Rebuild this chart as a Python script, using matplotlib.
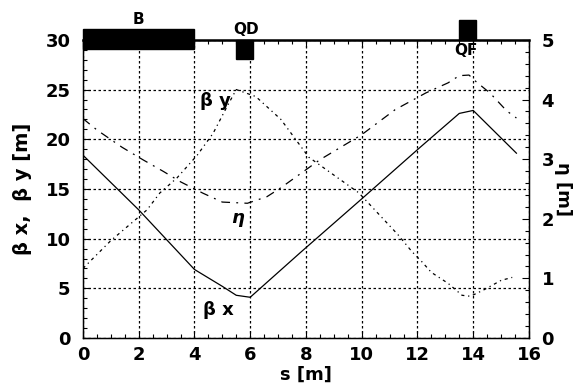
import matplotlib
matplotlib.use("Agg")
import matplotlib.pyplot as plt
import numpy as np
from matplotlib.patches import Rectangle
from matplotlib.ticker import MultipleLocator

# Lattice functions
s_bx = [0.0, 2.0, 4.0, 5.0, 5.5, 6.0, 7.8, 10.0, 12.1, 13.5, 14.0, 15.55]
beta_x = [18.4, 12.9, 6.9, 5.2, 4.3, 4.1, 8.6, 14.0, 19.2, 22.6, 22.9, 18.6]

s_by = [0.0, 1.0, 2.3, 2.76, 3.37, 4.1, 4.67, 5.17, 5.5, 6.2, 7.1, 8.1, 9.9,
        11.3, 11.8, 12.15, 12.5, 13.1, 13.6, 13.9, 14.35, 15.0, 15.4]
beta_y = [7.0, 9.8, 12.9, 14.6, 16.1, 18.4, 20.6, 23.3, 25.0, 24.3, 22.0, 18.2,
          14.6, 10.4, 8.7, 7.7, 6.6, 5.5, 4.3, 4.2, 4.8, 5.8, 6.1]

s_eta = [0.0, 0.5, 1.4, 2.15, 2.9, 3.5, 4.3, 5.0, 5.9, 6.6, 7.1, 8.5, 10.0,
         11.2, 12.3, 13.1, 13.5, 13.85, 14.1, 14.6, 15.2, 15.55]
eta = [3.68, 3.49, 3.2, 2.99, 2.79, 2.62, 2.43, 2.28, 2.26, 2.37, 2.52, 2.99,
       3.41, 3.83, 4.11, 4.28, 4.4, 4.41, 4.3, 4.11, 3.81, 3.69]

# Magnets along the cell: name, start, end [m]
magnet_names = ["B", "QD", "QF"]
magnet_start = [0.0, 5.5, 13.5]
magnet_end = [4.0, 6.1, 14.1]

plt.rcParams["font.family"] = ["DejaVu Sans"]
plt.rcParams["font.weight"] = "bold"

fig = plt.figure(figsize=(5.8, 3.91), dpi=100)
ax = fig.add_axes([0.143, 0.1355, 0.769, 0.7625])
ax2 = ax.twinx()

ax.plot(s_bx, beta_x, color="black", lw=0.9)
ax.plot(s_by, beta_y, color="black", lw=0.9, linestyle=(0, (2.5, 3, 1, 3)))
ax2.plot(s_eta, eta, color="black", lw=0.9, linestyle=(0, (7, 5, 1.5, 5)))

ax.set_xlim(0, 16)
ax.set_ylim(0, 30)
ax2.set_ylim(0, 5)

ax.xaxis.set_major_locator(MultipleLocator(2))
ax.xaxis.set_minor_locator(MultipleLocator(0.5))
ax.yaxis.set_major_locator(MultipleLocator(5))
ax.yaxis.set_minor_locator(MultipleLocator(1))
ax2.yaxis.set_major_locator(MultipleLocator(1))
ax2.yaxis.set_minor_locator(MultipleLocator(0.2))

ax.grid(True, which="major", color="black", lw=0.9, linestyle=(0, (2, 2)))

ax.tick_params(which="both", direction="in", top=True, labelsize=13, width=0.8)
ax.tick_params(which="major", length=5)
ax.tick_params(which="minor", length=3)
ax.tick_params(axis="y", pad=9)
ax.tick_params(axis="x", pad=6)
ax2.tick_params(which="both", direction="in", labelsize=13, width=0.8, pad=9)
ax2.tick_params(which="major", length=5)
ax2.tick_params(which="minor", length=3)
for lab in ax.get_xticklabels() + ax.get_yticklabels() + ax2.get_yticklabels():
    lab.set_fontweight("bold")

for sp in ax.spines.values():
    sp.set_linewidth(1.0)
ax.spines["top"].set_linewidth(1.8)

ax.set_xlabel("s [m]", fontsize=13, fontweight="bold", labelpad=1)
ax.set_ylabel("β x,  β y [m]", fontsize=14, fontweight="bold", labelpad=10)
ax2.set_ylabel("η [m]", fontsize=13, fontweight="bold", rotation=270, labelpad=13)

# Magnet blocks on the top edge
block_y = {"B": (29.1, 2.0), "QD": (28.1, 1.9), "QF": (30.0, 2.0)}
for name, s0, s1 in zip(magnet_names, magnet_start, magnet_end):
    y0, h = block_y[name]
    ax.add_patch(Rectangle((s0, y0), s1 - s0, h, color="black",
                           clip_on=False, zorder=5))
ax.text(2.0, 31.3, "B", ha="center", va="bottom", fontsize=11, fontweight="bold")
ax.text(5.85, 30.3, "QD", ha="center", va="bottom", fontsize=11, fontweight="bold")
ax.text(13.75, 29.7, "QF", ha="center", va="top", fontsize=11, fontweight="bold")

# Curve labels
ax.text(4.2, 23.3, "β y", fontsize=13, fontweight="bold")
ax.text(5.3, 11.6, "η", fontsize=13, fontweight="bold", style="italic")
ax.text(4.3, 2.3, "β x", fontsize=13, fontweight="bold")

fig.savefig("out.png", dpi=100)
